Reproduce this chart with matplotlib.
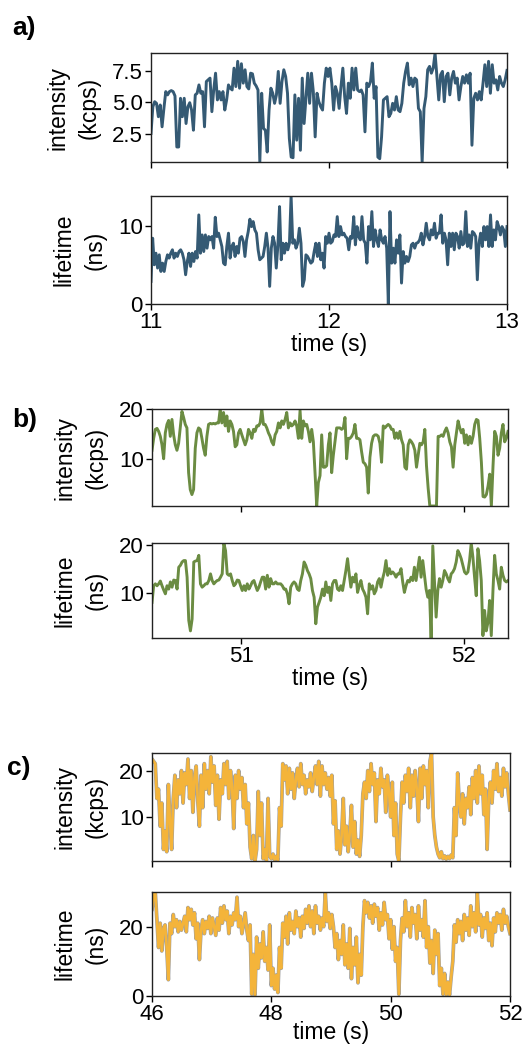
import numpy as np
import matplotlib
matplotlib.use('Agg')
import matplotlib.pyplot as plt
import matplotlib.patheffects as pe

plt.rcParams['font.family'] = ['Liberation Sans', 'DejaVu Sans']

# ---- panel a (11-13 s) ----
a_span = (11.0, 13.0)
a_intensity = [2.53, 4.65, 5.05, 4.92, 3.86, 4.79, 3.06, 4.52, 5.85, 5.59, 5.85, 5.93, 5.85, 5.51, 1.46, 1.46,
               5.32, 3.86, 5.32, 3.32, 4.65, 4.97, 4.39, 2.79, 5.59, 5.72, 6.38, 5.72, 5.85, 3.06, 6.65, 6.78,
               6.92, 4.26, 5.98, 7.31, 5.19, 5.85, 5.19, 5.85, 4.39, 5.19, 6.38, 6.12, 5.98, 7.71, 6.25, 8.25,
               6.12, 8.06, 6.52, 7.58, 6.25, 6.06, 7.31, 7.26, 6.52, 6.30, 5.98, 0.27, 5.72, 2.93, 2.79, 1.06,
               4.39, 6.12, 5.72, 4.92, 5.59, 7.45, 4.92, 6.65, 7.58, 7.05, 5.72, 2.13, 0.66, 0.61, 5.59, 2.0,
               5.32, 1.2, 6.92, 3.32, 5.32, 7.31, 4.92, 7.31, 5.85, 2.26, 5.72, 5.05, 4.65, 4.39, 6.52, 7.71,
               7.05, 7.71, 6.52, 4.39, 6.25, 5.72, 4.52, 6.25, 7.71, 5.45, 4.12, 6.52, 5.32, 7.71, 5.98, 7.71,
               5.98, 5.85, 5.98, 5.59, 2.66, 6.52, 6.25, 6.65, 8.11, 5.32, 6.25, 0.66, 0.53, 2.26, 5.19, 5.32,
               5.45, 3.86, 4.12, 4.92, 4.39, 5.45, 4.39, 4.26, 4.92, 6.52, 7.45, 8.11, 6.38, 6.92, 6.25, 6.92,
               6.78, 4.52, 4.26, 0.27, 4.52, 5.45, 7.58, 7.85, 7.31, 7.71, 8.91, 7.05, 5.19, 7.18, 7.45, 5.05,
               7.05, 7.31, 5.59, 6.92, 7.45, 6.52, 6.92, 5.19, 6.25, 7.05, 6.52, 7.18, 6.52, 7.31, 1.6, 5.32,
               5.72, 5.19, 5.85, 5.19, 6.52, 7.98, 6.25, 8.25, 5.72, 7.98, 6.52, 6.78, 5.98, 7.05, 6.52, 6.25,
               6.78, 7.53]
a_lifetime = [2.88, 8.39, 5.0, 6.48, 4.58, 6.27, 4.15, 5.21, 4.15, 5.42, 6.27, 5.85, 6.48, 6.91, 5.85, 6.48,
              6.06, 6.69, 6.91, 6.48, 5.64, 3.73, 5.42, 6.48, 4.79, 6.48, 5.42, 6.69, 5.85, 11.36, 6.48, 8.81,
              6.69, 8.81, 7.12, 8.6, 8.18, 8.6, 7.12, 11.06, 8.6, 9.03, 8.18, 7.33, 5.21, 5.0, 7.33, 9.03,
              5.85, 7.33, 7.75, 6.06, 7.33, 6.48, 8.39, 8.6, 7.97, 6.06, 8.18, 9.24, 10.81, 9.87, 10.51, 9.45,
              9.03, 6.91, 5.64, 5.85, 6.06, 7.33, 9.03, 7.12, 2.25, 7.12, 8.6, 7.75, 4.58, 7.54, 12.42, 5.64,
              7.75, 6.48, 7.75, 6.91, 7.75, 13.77, 7.75, 8.18, 7.12, 7.75, 9.66, 7.75, 2.25, 3.09, 6.27, 6.06,
              5.64, 5.21, 5.42, 6.69, 7.75, 6.06, 7.75, 5.64, 6.48, 4.58, 8.6, 7.75, 9.03, 7.75, 7.97, 8.81,
              8.6, 11.14, 8.6, 9.87, 8.81, 9.03, 8.6, 8.39, 6.91, 8.6, 8.39, 11.14, 7.54, 9.87, 8.6, 8.18,
              11.14, 8.18, 7.75, 5.21, 9.87, 8.18, 11.78, 7.33, 9.45, 8.18, 7.33, 9.45, 8.18, 7.75, 8.6, 7.12,
              0.0, 11.78, 5.21, 7.12, 5.21, 8.18, 6.48, 8.81, 2.67, 6.69, 5.21, 6.06, 5.42, 6.06, 7.54, 7.75,
              7.12, 7.75, 7.84, 8.18, 9.03, 7.54, 8.6, 10.3, 8.6, 8.18, 9.45, 8.81, 10.3, 8.39, 9.03, 9.03,
              11.36, 7.75, 9.03, 8.18, 5.0, 9.03, 7.33, 9.03, 6.91, 9.03, 8.6, 7.12, 9.24, 7.54, 7.75, 11.78,
              7.33, 8.81, 7.12, 9.24, 9.03, 8.6, 3.09, 7.75, 9.03, 7.33, 9.87, 8.18, 9.87, 7.33, 11.36, 7.33,
              9.45, 8.18, 10.51, 9.87, 8.81, 9.87, 9.45, 7.33, 9.87]

# ---- panel b (50.6-52.2 s) ----
b_span = (50.6, 52.2)
b_intensity = [11.7, 14.1, 15.9, 16.1, 15.5, 14.5, 12.8, 10.0, 15.2, 16.9, 17.7, 14.5, 17.9, 14.8, 12.8, 11.7,
               13.1, 16.2, 19.5, 18.3, 16.9, 16.2, 7.2, 3.8, 2.8, 3.8, 12.1, 15.2, 16.2, 15.9, 14.1, 12.1,
               10.7, 14.5, 16.9, 17.1, 17.0, 17.1, 17.0, 17.2, 17.2, 20.0, 17.2, 19.3, 16.6, 18.6, 15.5, 17.6,
               16.9, 15.5, 12.4, 12.8, 15.2, 15.9, 14.8, 13.8, 12.8, 13.8, 15.9, 15.2, 14.1, 15.9, 15.5, 16.6,
               16.6, 17.2, 20.0, 16.9, 16.9, 16.2, 15.2, 14.5, 13.4, 12.8, 14.8, 15.5, 17.2, 16.2, 17.6, 16.9,
               17.9, 19.3, 16.2, 17.2, 16.6, 16.9, 17.6, 16.6, 14.1, 19.7, 14.1, 17.6, 16.6, 16.9, 15.5, 13.4,
               15.9, 13.4, 7.2, 0.5, 5.2, 6.6, 14.8, 8.3, 8.3, 8.6, 12.8, 15.2, 7.2, 10.7, 13.4, 16.2,
               16.2, 16.2, 15.9, 16.2, 18.3, 10.0, 14.1, 14.1, 14.5, 15.2, 16.9, 14.1, 14.1, 13.8, 11.4, 9.3,
               9.0, 8.3, 3.1, 10.3, 13.1, 14.5, 14.8, 14.8, 14.5, 13.1, 9.3, 16.6, 16.2, 16.6, 16.9, 16.6,
               15.9, 15.9, 14.1, 15.2, 14.1, 15.5, 13.8, 12.8, 8.3, 7.9, 12.8, 13.8, 13.4, 12.8, 11.7, 8.3,
               10.7, 13.1, 12.8, 13.4, 15.9, 8.6, 4.1, 0.5, 0.5, 0.5, 0.5, 0.5, 14.5, 14.5, 14.8, 14.5,
               15.5, 16.2, 15.2, 13.4, 12.4, 8.3, 12.8, 15.2, 17.6, 16.2, 15.2, 15.9, 13.1, 14.8, 12.8, 14.5,
               13.1, 14.5, 16.9, 17.9, 17.7, 14.1, 9.3, 2.4, 2.3, 2.8, 4.5, 6.9, 0.5, 8.6, 15.5, 14.5,
               10.7, 12.1, 15.2, 16.9, 13.4, 14.1, 15.5]
b_lifetime = [8.0, 11.5, 11.9, 11.5, 11.9, 12.5, 11.5, 10.6, 9.8, 11.5, 10.8, 12.3, 11.2, 12.7, 12.6, 10.8,
              15.4, 15.8, 16.5, 16.8, 16.8, 13.3, 4.2, 2.0, 4.5, 16.5, 16.7, 16.8, 17.9, 11.9, 11.2, 11.5,
              11.9, 11.9, 12.6, 14.0, 12.6, 11.9, 12.3, 12.6, 12.7, 13.3, 14.0, 20.4, 18.9, 14.0, 13.7, 14.0,
              12.6, 11.5, 11.9, 12.7, 12.6, 11.5, 10.5, 11.5, 10.5, 11.9, 10.8, 11.5, 12.3, 12.6, 11.5, 10.5,
              11.2, 12.3, 13.3, 13.3, 10.8, 13.7, 11.2, 13.0, 11.9, 11.9, 12.3, 11.9, 11.9, 11.9, 11.5, 10.8,
              10.8, 9.8, 7.7, 11.2, 11.9, 12.3, 11.9, 10.8, 10.5, 12.6, 14.0, 16.5, 15.8, 14.7, 14.0, 13.0,
              10.5, 9.1, 3.5, 7.0, 8.0, 9.1, 10.8, 9.4, 12.3, 10.1, 11.2, 8.4, 11.9, 12.6, 12.6, 10.8,
              10.5, 11.5, 10.5, 12.6, 14.7, 17.2, 14.0, 11.2, 13.3, 12.3, 14.0, 10.1, 11.5, 12.6, 10.8, 10.1,
              9.1, 5.6, 11.9, 10.8, 11.5, 9.8, 10.5, 12.3, 13.0, 11.2, 13.0, 14.4, 16.8, 13.7, 15.1, 14.0,
              14.4, 14.0, 13.3, 14.0, 14.0, 15.1, 12.3, 10.1, 11.5, 12.6, 12.3, 13.3, 12.6, 15.4, 12.6, 15.1,
              17.5, 13.3, 16.8, 13.7, 10.8, 9.1, 10.5, 0.5, 19.9, 12.6, 4.9, 10.5, 13.0, 11.2, 12.6, 14.7,
              14.0, 13.0, 12.3, 14.0, 14.4, 15.1, 16.5, 18.9, 18.2, 17.2, 15.8, 14.4, 14.0, 14.4, 16.8, 20.5,
              17.5, 13.3, 9.4, 19.3, 16.8, 12.6, 1.0, 6.3, 2.0, 3.8, 8.4, 1.0, 10.5, 17.9, 14.0, 12.6,
              10.8, 15.4, 13.7, 12.6, 12.3, 12.6]

# ---- panel c (46-52 s) ----
c_span = (46.0, 52.0)
c_intensity = [22.5, 22.0, 21.5, 14.0, 16.0, 8.0, 13.0, 3.0, 7.0, 2.5, 17.0, 9.0, 3.0, 14.0, 19.0, 12.0,
               18.0, 15.0, 20.0, 13.0, 19.5, 17.0, 22.5, 14.0, 20.0, 11.0, 18.5, 21.0, 13.5, 8.0, 19.0, 12.0,
               21.5, 16.0, 20.0, 15.0, 23.0, 17.5, 21.0, 12.5, 19.0, 9.5, 18.0, 15.0, 21.5, 17.0, 22.0, 14.0,
               20.0, 16.5, 7.5, 19.0, 14.0, 20.0, 16.0, 18.5, 12.0, 17.0, 8.5, 13.0, 3.5, 1.0, 6.0, 0.5,
               3.0, 15.5, 6.0, 13.0, 1.0, 3.0, 0.6, 14.0, 1.5, 1.0, 2.0, 0.8, 1.5, 0.7, 12.0, 8.0,
               21.5, 18.0, 21.0, 15.0, 20.5, 16.0, 19.5, 14.0, 18.0, 20.5, 16.5, 21.5, 17.0, 19.0, 15.0, 18.0,
               16.5, 19.5, 15.5, 18.5, 21.0, 17.0, 22.0, 14.5, 21.0, 17.0, 19.5, 16.0, 18.5, 14.5, 19.0, 8.5,
               13.5, 3.0, 7.0, 2.0, 6.0, 14.0, 4.0, 8.0, 2.5, 6.5, 12.5, 3.5, 9.0, 2.0, 5.0, 1.5,
               6.0, 15.0, 17.5, 14.0, 20.0, 15.5, 21.5, 17.0, 19.5, 9.0, 18.0, 15.0, 20.5, 16.5, 18.0, 11.0,
               19.0, 15.5, 10.0, 17.5, 6.0, 13.0, 2.0, 0.5, 10.0, 17.5, 13.0, 19.0, 15.5, 20.5, 12.0, 19.0,
               14.5, 20.0, 16.0, 9.0, 20.5, 14.0, 21.0, 17.0, 20.0, 12.0, 22.0, 23.8, 10.0, 6.0, 3.5, 2.0,
               1.2, 2.5, 1.0, 1.6, 0.9, 1.5, 1.0, 1.8, 1.2, 12.0, 6.0, 19.5, 13.0, 10.0, 15.0, 8.5,
               14.0, 12.0, 16.5, 10.5, 18.5, 14.0, 20.0, 13.0, 21.0, 15.0, 19.0, 10.5, 16.0, 3.0, 14.0, 17.5,
               13.0, 20.0, 16.0, 21.5, 15.5, 18.5, 14.5, 20.5, 16.5, 19.5, 15.0, 11.5]
c_lifetime = [25.0, 29.0, 30.0, 22.0, 14.0, 21.0, 13.0, 19.5, 20.5, 14.0, 4.7, 21.0, 18.0, 23.5, 20.0, 22.0,
              18.5, 21.5, 19.0, 21.0, 23.0, 18.5, 25.5, 22.0, 25.0, 20.5, 24.0, 16.5, 21.0, 10.5, 19.0, 22.0,
              18.0, 21.5, 19.5, 23.0, 18.0, 22.5, 20.0, 17.5, 22.5, 19.0, 25.5, 21.0, 26.0, 22.0, 24.5, 18.0,
              23.0, 20.5, 24.0, 22.0, 28.5, 20.0, 23.0, 18.0, 21.0, 24.0, 19.0, 16.0, 20.5, 0.5, 12.0, 0.3,
              17.0, 8.0, 15.0, 11.0, 18.5, 10.0, 14.0, 7.5, 20.5, 3.0, 8.0, 2.0, 6.0, 1.0, 14.0, 8.0,
              21.0, 17.0, 23.0, 15.0, 24.0, 19.0, 21.5, 18.0, 24.5, 20.0, 22.5, 17.0, 23.0, 19.5, 25.0, 21.0,
              26.0, 20.0, 24.5, 18.0, 26.0, 21.0, 23.0, 19.0, 22.5, 20.0, 30.0, 21.5, 24.0, 19.5, 23.5, 20.0,
              14.0, 18.0, 10.5, 16.0, 12.0, 20.5, 9.0, 15.0, 8.0, 19.5, 5.0, 14.0, 9.0, 17.0, 3.8, 12.0,
              6.0, 20.0, 27.5, 24.0, 27.0, 22.5, 26.0, 21.0, 26.5, 23.0, 25.5, 19.0, 24.0, 20.5, 27.0, 22.0,
              23.5, 16.5, 22.0, 13.5, 20.0, 10.0, 14.0, 0.5, 16.0, 22.5, 18.5, 27.5, 20.0, 24.0, 17.0, 25.5,
              21.0, 23.5, 16.5, 26.0, 19.0, 22.0, 17.0, 27.5, 14.0, 20.0, 9.5, 16.0, 6.5, 19.0, 12.0, 18.0,
              3.0, 8.0, 0.5, 6.5, 0.4, 4.0, 0.3, 5.5, 10.0, 20.5, 15.5, 22.0, 18.0, 21.5, 16.0, 23.5,
              19.0, 22.5, 17.5, 26.0, 20.0, 24.0, 18.5, 30.0, 20.5, 23.5, 17.0, 22.5, 19.5, 24.0, 16.0, 21.0,
              14.5, 22.5, 18.5, 24.0, 21.0, 23.5, 19.0, 25.0, 21.0, 23.0, 20.0, 18.0]

# axes boxes in pixels: (x0, y_top, x1, y_bottom) of the 532x1046 figure
W, H = 532, 1046
boxes = [(151, 53, 507, 162), (151, 196, 507, 304),
         (152, 409, 508, 506), (152, 543, 508, 638),
         (152, 753, 510, 861), (152, 892, 510, 996)]

panels = [
    ('a)', a_span, a_intensity, a_lifetime, '#355a74', None, [2.5, 5.0, 7.5], [0, 10], [11, 12, 13], (12, 16)),
    ('b)', b_span, b_intensity, b_lifetime, '#6b8c42', None, [10, 20], [10, 20], [51, 52], (12, 408)),
    ('c)', c_span, c_intensity, c_lifetime, '#f4b43a', '#a0a0a0', [10, 20], [0, 20], [46, 48, 50, 52], (7, 756)),
]

fig = plt.figure(figsize=(W / 100, H / 100), dpi=100)

for k, (letter, span, inten, life, color, edge, yt_i, yt_l, xt, lpos) in enumerate(panels):
    for j, (vals, ylab, yt) in enumerate([(inten, 'intensity\n(kcps)', yt_i),
                                          (life, 'lifetime\n(ns)', yt_l)]):
        x0, y0, x1, y1 = boxes[2 * k + j]
        ax = fig.add_axes([x0 / W, 1 - y1 / H, (x1 - x0) / W, (y1 - y0) / H])
        t = np.linspace(span[0], span[1], len(vals))
        if edge:
            ax.plot(t, vals, color=color, lw=1.9,
                    path_effects=[pe.Stroke(linewidth=2.7, foreground=edge), pe.Normal()])
        else:
            ax.plot(t, vals, color=color, lw=2.1)
        ax.set_xlim(span)
        ax.margins(y=0)
        ax.set_yticks(yt)
        ax.set_xticks(xt)
        ax.set_ylabel(ylab, fontsize=16.5, labelpad=8, linespacing=1.45)
        ax.tick_params(labelsize=16, length=4, width=1, pad=2)
        for s in ax.spines.values():
            s.set_linewidth(1.0)
            s.set_color('#222222')
        if j == 0:
            ax.set_xticklabels([])
        else:
            ax.set_xlabel('time (s)', fontsize=16.5, labelpad=(-3 if k == 2 else 0))
    fig.text(lpos[0] / W, 1 - lpos[1] / H, letter, fontsize=19, fontweight='bold',
             ha='left', va='top')

fig.savefig('out.png', dpi=100)
